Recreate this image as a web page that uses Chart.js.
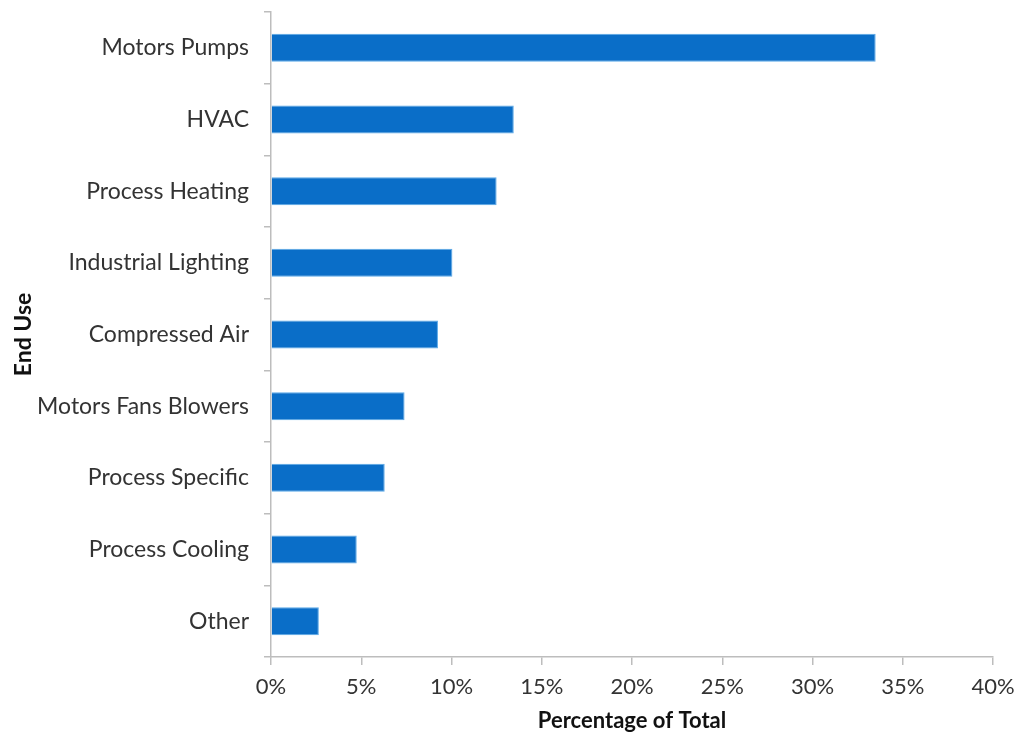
<!DOCTYPE html>
<html>
<head>
<meta charset="utf-8">
<script src="https://cdn.jsdelivr.net/npm/chart.js@4"></script>
<style>
  body { margin: 0; background: #fff; }
  #wrap { width: 1018px; height: 736px; }
</style>
</head>
<body>
<div id="wrap"><canvas id="chart" width="1018" height="736"></canvas></div>
<script>
// end uses, top to bottom
const endUses = [
  "Motors Pumps",
  "HVAC",
  "Process Heating",
  "Industrial Lighting",
  "Compressed Air",
  "Motors Fans Blowers",
  "Process Specific",
  "Process Cooling",
  "Other",
];
// share of total, percent
const shares = [33.5, 13.45, 12.5, 10.05, 9.25, 7.4, 6.3, 4.75, 2.65];
const xTicks = [0, 5, 10, 15, 20, 25, 30, 35, 40];

const axisGray = "#bdbdbd";
const textGray = "#333333";
const fontFamily = "Lato, 'Open Sans', sans-serif";

// keep label overhang from pushing the plot area in
const noOverhang = (scale) => {
  scale.paddingTop = 0;
  scale.paddingBottom = 0;
  scale.paddingLeft = 0;
  scale.paddingRight = 0;
};

const ctx = document.getElementById("chart");
new Chart(ctx, {
  type: "bar",
  data: {
    labels: endUses,
    datasets: [
      {
        data: shares,
        backgroundColor: "#0a6ec8",
        borderColor: "#5aa9e8",
        borderWidth: 1,
        borderSkipped: "left",
        categoryPercentage: 1,
        barPercentage: 0.39,
      },
    ],
  },
  options: {
    indexAxis: "y",
    responsive: false,
    animation: false,
    layout: { padding: { top: 12, right: 25, left: 0, bottom: 0 } },
    plugins: {
      legend: { display: false },
      tooltip: { enabled: false },
    },
    scales: {
      x: {
        min: 0,
        max: 40,
        afterBuildTicks: (scale) => {
          scale.ticks = xTicks.map((v) => ({ value: v }));
        },
        afterFit: (scale) => {
          scale.height = 79;
          noOverhang(scale);
        },
        border: { color: axisGray, width: 1.5 },
        grid: {
          drawOnChartArea: false,
          drawTicks: true,
          tickLength: 8,
          color: axisGray,
          lineWidth: 1.5,
        },
        ticks: {
          padding: 9,
          color: textGray,
          font: { family: fontFamily, size: 22 },
          callback: (v) => v + "%",
        },
        title: {
          display: true,
          text: "Percentage of Total",
          color: "#111",
          font: { family: fontFamily, size: 22, weight: "bold" },
          padding: { top: 2, bottom: 2 },
        },
      },
      y: {
        afterFit: (scale) => {
          scale.width = 271;
          noOverhang(scale);
        },
        border: { color: axisGray, width: 1.5 },
        grid: {
          offset: true,
          drawOnChartArea: false,
          drawTicks: true,
          tickLength: 7,
          color: axisGray,
          lineWidth: 1.5,
        },
        ticks: {
          padding: 15,
          color: textGray,
          font: { family: fontFamily, size: 23 },
        },
        title: {
          display: true,
          text: "End Use",
          color: "#111",
          font: { family: fontFamily, size: 23, weight: "bold" },
          padding: { top: 10, bottom: 0 },
        },
      },
    },
  },
});
</script>
</body>
</html>
